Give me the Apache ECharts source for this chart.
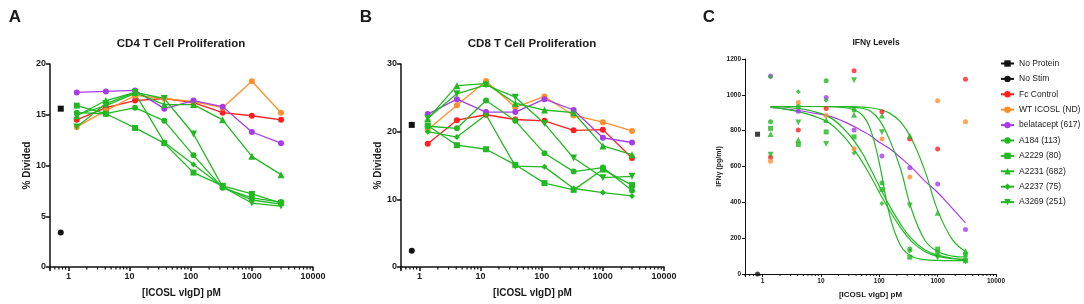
<!DOCTYPE html>
<html>
<head>
<meta charset="utf-8">
<script src="https://cdn.jsdelivr.net/npm/echarts@6/dist/echarts.min.js"></script>
<style>
  html, body { margin: 0; padding: 0; background: #fff; }
  #chart { width: 1084px; height: 304px; }
</style>
</head>
<body>
<div id="chart"></div>
<script>
// dilution series used in all three panels (pM)
const doses = [1.37, 4.1, 12.3, 37, 111, 333, 1000, 3000];
const ctrlDoseAB = 0.75;
const ctrlDoseC = 0.82;

const seriesNames = [
  'No Protein', 'No Stim', 'Fc Control', 'WT ICOSL (ND)', 'belatacept (617)',
  'A184 (113)', 'A2229 (80)', 'A2231 (682)', 'A2237 (75)', 'A3269 (251)'
];

// A: CD4 % divided
const cd4Controls = [15.6, 3.4]; // No Protein, No Stim
const cd4Fc = [14.5, 15.7, 16.4, 16.6, 16.2, 15.2, 14.9, 14.5];
const cd4Wt = [13.8, 15.4, 16.9, 16.6, 16.3, 15.7, 18.3, 15.2];
const cd4Bela = [17.2, 17.3, 17.4, 15.6, 16.4, 15.8, 13.3, 12.2];
const cd4A184 = [15.2, 15.1, 15.7, 14.4, 11.0, 7.8, 6.8, 6.4];
const cd4A2229 = [15.9, 15.1, 13.7, 12.2, 9.3, 8.0, 7.2, 6.3];
const cd4A2231 = [14.9, 16.4, 17.2, 16.0, 16.0, 14.5, 10.9, 9.1];
const cd4A2237 = [15.0, 15.9, 17.1, 12.3, 10.1, 7.9, 6.6, 6.2];
const cd4A3269 = [13.8, 16.1, 17.2, 16.6, 13.1, 7.9, 6.3, 6.0];

// B: CD8 % divided
const cd8Controls = [21.0, 2.4];
const cd8Fc = [18.2, 21.7, 22.5, 21.8, 21.6, 20.2, 20.3, 16.1];
const cd8Wt = [20.3, 23.9, 27.5, 23.6, 25.2, 22.4, 21.4, 20.1];
const cd8Bela = [22.6, 24.8, 22.9, 22.9, 24.8, 23.2, 19.1, 18.4];
const cd8A184 = [20.8, 20.5, 24.6, 21.6, 16.8, 14.1, 14.7, 11.3];
const cd8A2229 = [20.9, 18.0, 17.4, 15.1, 12.4, 11.4, 14.4, 12.1];
const cd8A2231 = [21.9, 26.8, 27.1, 24.2, 23.2, 22.8, 17.9, 16.6];
const cd8A2237 = [20.0, 19.2, 22.5, 14.9, 14.8, 11.6, 11.0, 10.5];
const cd8A3269 = [22.0, 25.6, 26.9, 25.1, 21.2, 16.1, 13.2, 13.4];

// C: IFNg pg/ml, measured points
const ifnControls = [780, 0];
const ifnFc = [652, 804, 924, 1135, 906, 754, 697, 1087];
const ifnWt = [630, 957, 884, 699, 754, 542, 967, 850];
const ifnBela = [1105, 909, 985, 804, 658, 593, 503, 248];
const ifnA184 = [850, 935, 1078, 915, 508, 139, 120, 111];
const ifnA2229 = [813, 723, 793, 765, 471, 94, 139, 74];
const ifnA2231 = [782, 749, 860, 889, 884, 771, 342, 129];
const ifnA2237 = [1100, 1017, 970, 675, 394, 129, 102, 98];
const ifnA3269 = [665, 845, 726, 1081, 791, 383, 92, 70];

// C: fitted curves
const curveDoses = [1.37, 3, 7, 15, 30, 50, 70, 100, 150, 230, 350, 600, 1000, 1800, 3000];
const fitBela = [930, 918, 900, 878, 838, 800, 773, 735, 700, 650, 598, 520, 455, 365, 285];
const fitA184 = [935, 935, 935, 933, 925, 890, 810, 620, 330, 160, 100, 80, 76, 75, 75];
const fitA2229 = [935, 928, 910, 870, 780, 680, 590, 490, 380, 280, 200, 135, 105, 88, 82];
const fitA2231 = [935, 935, 935, 935, 934, 932, 928, 918, 898, 850, 760, 580, 355, 190, 125];
const fitA2237 = [930, 915, 885, 835, 735, 630, 550, 455, 355, 260, 185, 125, 98, 85, 80];
const fitA3269 = [935, 935, 935, 935, 932, 925, 910, 860, 750, 590, 370, 190, 125, 100, 95];

const FONT = '"Liberation Sans", Arial, sans-serif';
const INK = '#1a1a1a';
const green = '#22b822';
const looks = [
  { color: '#111111', symbol: 'rect', size: 6 },
  { color: '#111111', symbol: 'circle', size: 6 },
  { color: '#ff1f1f', symbol: 'circle', size: 6 },
  { color: '#ff8f2a', symbol: 'circle', size: 6 },
  { color: '#a83be8', symbol: 'circle', size: 6 },
  { color: green, symbol: 'circle', size: 6 },
  { color: green, symbol: 'rect', size: 6 },
  { color: green, symbol: 'triangle', size: 7 },
  { color: green, symbol: 'diamond', size: 6 },
  { color: green, symbol: 'triangle', size: 7, rotate: 180 }
];

const pair = (xs, ys) => xs.map((x, k) => [x, ys[k]]);

function proliferationSeries(g, controls, rows) {
  const out = [];
  controls.forEach((v, k) => {
    const lk = looks[k];
    out.push({
      name: seriesNames[k], type: 'line', xAxisIndex: g, yAxisIndex: g,
      data: [[ctrlDoseAB, v]], symbol: lk.symbol, symbolSize: lk.size,
      itemStyle: { color: lk.color }, lineStyle: { color: lk.color, width: 1.3 }
    });
  });
  rows.forEach((vals, k) => {
    const lk = looks[k + 2];
    out.push({
      name: seriesNames[k + 2], type: 'line', xAxisIndex: g, yAxisIndex: g,
      data: pair(doses, vals), symbol: lk.symbol, symbolSize: lk.size,
      symbolRotate: lk.rotate || 0,
      itemStyle: { color: lk.color }, lineStyle: { color: lk.color, width: 1.3 }
    });
  });
  return out;
}

function ifnSeries() {
  const out = [];
  ifnControls.forEach((v, k) => {
    const lk = looks[k];
    out.push({
      name: seriesNames[k], type: 'scatter', xAxisIndex: 2, yAxisIndex: 2,
      data: [[ctrlDoseC, v]], symbol: lk.symbol, symbolSize: 5,
      itemStyle: { color: lk.color }
    });
  });
  const fits = [null, null, fitBela, fitA184, fitA2229, fitA2231, fitA2237, fitA3269];
  [ifnFc, ifnWt, ifnBela, ifnA184, ifnA2229, ifnA2231, ifnA2237, ifnA3269].forEach((vals, k) => {
    const lk = looks[k + 2];
    if (fits[k]) {
      out.push({
        name: seriesNames[k + 2], type: 'line', xAxisIndex: 2, yAxisIndex: 2,
        data: pair(curveDoses, fits[k]), symbol: 'none', smooth: 0.4,
        lineStyle: { color: lk.color, width: 1.2 }, itemStyle: { color: lk.color }, z: 1
      });
    }
    out.push({
      name: seriesNames[k + 2], type: 'scatter', xAxisIndex: 2, yAxisIndex: 2,
      data: pair(doses, vals), symbol: lk.symbol, symbolSize: lk.size - 1,
      symbolRotate: lk.rotate || 0, itemStyle: { color: lk.color }, z: 3
    });
  });
  return out;
}

function isDecade(v) {
  const l = Math.log10(v);
  return Math.abs(l - Math.round(l)) < 1e-6;
}

function xAxisFor(g, small) {
  return {
    type: 'log', logBase: 10, gridIndex: g, min: 0.5, max: 10000,
    name: '[ICOSL vIgD] pM', nameLocation: 'middle', nameGap: small ? 17 : 21,
    nameTextStyle: { fontWeight: 'bold', fontSize: small ? 8 : 10, color: INK, fontFamily: FONT },
    axisLine: { lineStyle: { color: '#111', width: small ? 1 : 1.5 } },
    axisTick: { length: small ? 3 : 4, lineStyle: { color: '#111', width: small ? 1 : 1.5 } },
    axisLabel: {
      fontSize: small ? 6.5 : 9, fontWeight: 'bold', color: INK, margin: small ? 4 : 5,
      formatter: (v) => (isDecade(v) ? String(Math.round(v)) : '')
    },
    splitLine: { show: false }
  };
}

function yAxisFor(g, max, step, name, small) {
  return {
    type: 'value', gridIndex: g, min: 0, max: max, interval: step,
    name: name, nameLocation: 'middle', nameRotate: 90, nameGap: small ? 19 : 18,
    nameTextStyle: { fontWeight: 'bold', fontSize: small ? 7 : 10, color: INK, fontFamily: FONT },
    axisLine: { show: true, lineStyle: { color: '#111', width: small ? 1 : 1.5 } },
    axisTick: { show: true, length: small ? 3 : 4, lineStyle: { color: '#111', width: small ? 1 : 1.5 } },
    axisLabel: {
      fontSize: small ? 6.5 : 9, fontWeight: 'bold', color: INK, margin: 4,
      formatter: (v) => String(v)
    },
    splitLine: { show: false }
  };
}

const chart = echarts.init(document.getElementById('chart'));

const option = {
  animation: false,
  textStyle: { fontFamily: FONT },
  legend: {
    data: seriesNames, orient: 'vertical', left: 1000, top: 59, padding: 0,
    itemWidth: 13, itemHeight: 8, itemGap: 6.4,
    textStyle: { fontSize: 8.5, color: INK, fontFamily: FONT }
  },
  grid: [
    { left: 50, top: 64, width: 263, height: 203 },
    { left: 401, top: 64, width: 263, height: 203 },
    { left: 745, top: 59, width: 251, height: 216 }
  ],
  xAxis: [xAxisFor(0, false), xAxisFor(1, false), xAxisFor(2, true)],
  yAxis: [
    yAxisFor(0, 20, 5, '% Divided', false),
    yAxisFor(1, 30, 10, '% Divided', false),
    yAxisFor(2, 1200, 200, 'IFNγ (pg/ml)', true)
  ],
  series: [].concat(
    proliferationSeries(0, cd4Controls, [cd4Fc, cd4Wt, cd4Bela, cd4A184, cd4A2229, cd4A2231, cd4A2237, cd4A3269]),
    proliferationSeries(1, cd8Controls, [cd8Fc, cd8Wt, cd8Bela, cd8A184, cd8A2229, cd8A2231, cd8A2237, cd8A3269]),
    ifnSeries()
  )
};

chart.setOption(option);

// panel letters and titles
const label = (text, x, y, font) => ({
  type: 'text', x: x, y: y, silent: true,
  style: { text: text, font: font, fill: INK, align: 'center', verticalAlign: 'middle' }
});
const texts = [
  label('A', 15, 17, 'bold 17px ' + FONT),
  label('B', 366, 17, 'bold 17px ' + FONT),
  label('C', 709, 17, 'bold 17px ' + FONT),
  label('CD4 T Cell Proliferation', 181, 44, 'bold 11.5px ' + FONT),
  label('CD8 T Cell Proliferation', 532, 44, 'bold 11.5px ' + FONT),
  label('IFNγ Levels', 876, 43, 'bold 8.5px ' + FONT)
];

// log minor ticks (2..9 per decade)
const minor = [];
for (let g = 0; g < 3; g++) {
  const y0 = chart.convertToPixel({ yAxisIndex: g }, 0);
  for (let e = -1; e <= 3; e++) {
    for (let m = 2; m <= 9; m++) {
      const v = m * Math.pow(10, e);
      if (v < 0.5 || v > 10000) continue;
      const x = chart.convertToPixel({ xAxisIndex: g }, v);
      minor.push({
        type: 'line', silent: true,
        shape: { x1: x, y1: y0, x2: x, y2: y0 + (g === 2 ? 2 : 2.5) },
        style: { stroke: '#111', lineWidth: g === 2 ? 1 : 1.2 }
      });
    }
  }
}

chart.setOption({ graphic: texts.concat(minor) });
window.addEventListener('resize', () => chart.resize());
</script>
</body>
</html>
